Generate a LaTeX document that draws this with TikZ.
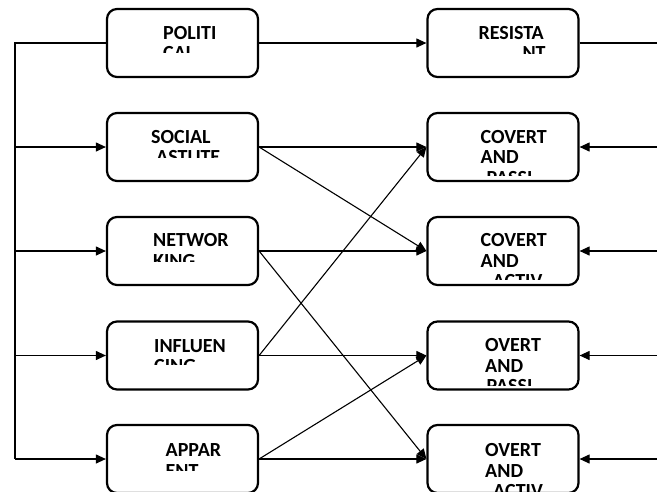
\documentclass[tikz,border=0pt]{standalone}
\usepackage{fontspec}
\setmainfont{Carlito}
\usetikzlibrary{arrows.meta}
\begin{document}
\begin{tikzpicture}[x=1pt,y=-1pt,
  box/.style={draw, line width=2.2pt, rounded corners=10pt, minimum width=151pt, minimum height=68pt, inner sep=0pt},
  lbl/.style={anchor=base west, align=left, inner sep=0pt, font=\fontsize{20}{20.5}\selectfont\bfseries},
  conn/.style={line width=1.1pt},
  arr/.style={line width=1.1pt, -{Triangle[length=10pt,width=9pt]}}]
\useasboundingbox (0,0) rectangle (657,491);
% boxes
\node[box] (L1) at (182.5,43) {};
\node[box] (L2) at (182.5,147) {};
\node[box] (L3) at (182.5,251) {};
\node[box] (L4) at (182.5,355.5) {};
\node[box] (L5) at (182.5,459) {};
\node[box] (R1) at (503,43) {};
\node[box] (R2) at (503,147) {};
\node[box] (R3) at (503,251) {};
\node[box] (R4) at (503,355.5) {};
\node[box] (R5) at (503,459) {};
% clipped texts (node anchored at baseline of last line)
\begin{scope}\clip (108,10) rectangle (257,52);
\node[lbl] (tL1) at (163,59.5) {POLITI\\CAL};\end{scope}
\begin{scope}\clip (108,114) rectangle (257,157.3);
\node[lbl] (tL2) at (151,163.8) {SOCIAL\\\hspace*{5pt}ASTUTE};\end{scope}
\begin{scope}\clip (108,218) rectangle (257,261.7);
\node[lbl] (tL3) at (153,267.2) {NETWOR\\KING};\end{scope}
\begin{scope}\clip (108,323) rectangle (257,364.5);
\node[lbl] (tL4) at (154,372.8) {INFLUEN\\CING};\end{scope}
\begin{scope}\clip (108,427) rectangle (257,470);
\node[lbl] (tL5) at (165.5,477.2) {APPAR\\ENT};\end{scope}
\begin{scope}\clip (428,10) rectangle (578,53.3);
\node[lbl] (tR1) at (478.3,59.5) {RESISTA\\\hspace*{44pt}NT};\end{scope}
\begin{scope}\clip (428,114) rectangle (578,175);
\node[lbl] (tR2) at (480.5,184.3) {COVERT\\AND\\\hspace*{6pt}PASSI};\end{scope}
\begin{scope}\clip (428,218) rectangle (578,279.5);
\node[lbl] (tR3) at (480.5,287.7) {COVERT\\AND\\\hspace*{12pt}ACTIV};\end{scope}
\begin{scope}\clip (428,323) rectangle (578,385);
\node[lbl] (tR4) at (485,392.7) {OVERT\\AND\\\hspace*{1.5pt}PASSI};\end{scope}
\begin{scope}\clip (428,428) rectangle (578,491);
\node[lbl] (tR5) at (485,497.7) {OVERT\\AND\\\hspace*{8pt}ACTIV};\end{scope}
% left trunk
\coordinate (tTop) at (15,43);
\coordinate (tBot) at (15,459);
\draw[conn] (L1.west) -- (tTop) -- (tBot);
\draw[arr] (L2.west -| tTop) -- (L2.west);
\draw[arr] (L3.west -| tTop) -- (L3.west);
\draw[arr] (L4.west -| tTop) -- (L4.west);
\draw[arr] (tBot) -- (L5.west);
% middle
\draw[arr] (L1.east) -- (R1.west);
\draw[arr] (L2.east) -- (R2.west);
\draw[arr] (L2.east) -- (R3.west);
\draw[arr] (L3.east) -- (R3.west);
\draw[arr] (L3.east) -- (R5.west);
\draw[arr] (L4.east) -- (R2.west);
\draw[arr] (L4.east) -- (R4.west);
\draw[arr] (L5.east) -- (R4.west);
\draw[arr] (L5.east) -- (R5.west);
% right side
\coordinate (e1) at (657,43);
\coordinate (e2) at (657,147);
\coordinate (e3) at (657,251);
\coordinate (e4) at (657,355.5);
\coordinate (e5) at (657,459);
\draw[conn] (R1.east) -- (e1);
\draw[arr] (e2) -- (R2.east);
\draw[arr] (e3) -- (R3.east);
\draw[arr] (e4) -- (R4.east);
\draw[arr] (e5) -- (R5.east);
\end{tikzpicture}
\end{document}
